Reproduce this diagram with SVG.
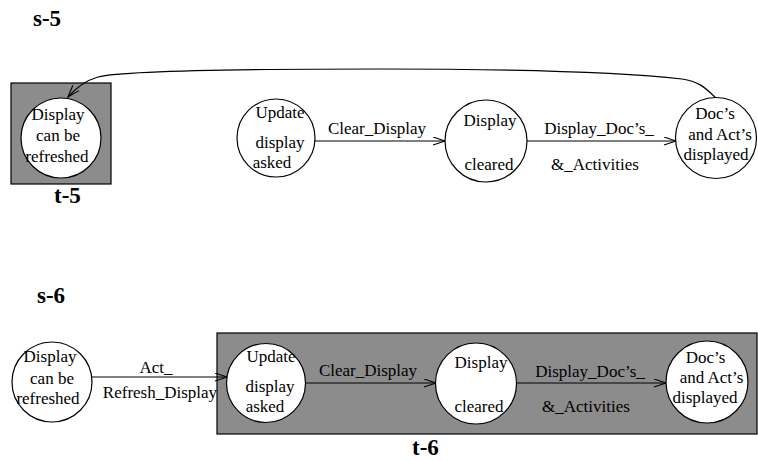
<svg xmlns="http://www.w3.org/2000/svg" width="758" height="461" viewBox="0 0 758 461">
<defs>
<style>
.t{font-family:"Liberation Serif","Times New Roman",serif;font-size:17px;fill:#000;text-anchor:middle}
.b{font-family:"Liberation Serif","Times New Roman",serif;font-size:23px;font-weight:bold;fill:#000}
.c{fill:#fff;stroke:#000;stroke-width:1.2}
.box{fill:#8c8c8c;stroke:#000;stroke-width:1.2}
.e{fill:none;stroke:#000;stroke-width:1.2;marker-end:url(#ah)}
</style>
<marker id="ah" markerWidth="14" markerHeight="10" refX="13" refY="4.5" orient="auto" markerUnits="userSpaceOnUse">
<path d="M1,0.5 L13,4.5 L1,8.5" fill="none" stroke="#000" stroke-width="1.1"/>
</marker>
</defs>
<rect width="758" height="461" fill="#fff"/>
<g id="labels">
<text class="b" x="33" y="26">s-5</text>
<text class="b" x="54" y="203">t-5</text>
<text class="b" x="37" y="303">s-6</text>
<text class="b" x="412" y="455">t-6</text>
</g>
<g id="t5-box"><rect class="box" x="11" y="83" width="100" height="101"/></g>
<g id="t6-box"><rect class="box" x="217" y="333" width="540" height="101"/></g>
<g id="connectors">
<path class="e" d="M715,97 C706,89 701,82 682,79 C620,72 500,69 380,69 C250,69 125,70 98,77 C84,81 75,89 68,97"/>
<line class="e" x1="315" y1="141" x2="445" y2="141"/>
<line class="e" x1="527" y1="141" x2="676" y2="141"/>
<line class="e" x1="88" y1="377" x2="227" y2="377"/>
<line class="e" x1="305" y1="383" x2="436" y2="383"/>
<line class="e" x1="517" y1="383" x2="666" y2="383"/>
</g>
<g id="edge-labels">
<text class="t" x="377" y="134">Clear_Display</text>
<text class="t" x="599" y="134">Display_Doc’s_</text>
<text class="t" x="595" y="170">&amp;_Activities</text>
<text class="t" x="156" y="373">Act_</text>
<text class="t" x="160" y="398">Refresh_Display</text>
<text class="t" x="368" y="376">Clear_Display</text>
<text class="t" x="590" y="377">Display_Doc’s_</text>
<text class="t" x="586" y="412">&amp;_Activities</text>
</g>
<g id="s5-refresh">
<circle class="c" cx="61" cy="138" r="40"/>
<text class="t" x="58" y="120">Display</text>
<text class="t" x="58" y="141">can be</text>
<text class="t" x="57" y="162">refreshed</text>
</g>
<g id="s5-update">
<circle class="c" cx="276" cy="138" r="39"/>
<text class="t" x="280" y="118">Update</text>
<text class="t" x="280" y="148">display</text>
<text class="t" x="272" y="168">asked</text>
</g>
<g id="s5-cleared">
<circle class="c" cx="486" cy="141" r="41"/>
<text class="t" x="490" y="126">Display</text>
<text class="t" x="489" y="170">cleared</text>
</g>
<g id="s5-docs">
<circle class="c" cx="716" cy="138" r="40.5"/>
<text class="t" x="715" y="119">Doc’s</text>
<text class="t" x="720" y="140">and Act’s</text>
<text class="t" x="716" y="160">displayed</text>
</g>
<g id="s6-refresh">
<circle class="c" cx="52" cy="382" r="40"/>
<text class="t" x="50" y="362">Display</text>
<text class="t" x="52" y="384">can be</text>
<text class="t" x="48" y="404">refreshed</text>
</g>
<g id="s6-update">
<circle class="c" cx="266" cy="383" r="39.5"/>
<text class="t" x="271" y="362">Update</text>
<text class="t" x="270" y="392">display</text>
<text class="t" x="265" y="412">asked</text>
</g>
<g id="s6-cleared">
<circle class="c" cx="476" cy="383.5" r="40.5"/>
<text class="t" x="481" y="368">Display</text>
<text class="t" x="479" y="412">cleared</text>
</g>
<g id="s6-docs">
<circle class="c" cx="707" cy="382" r="41"/>
<text class="t" x="705.5" y="363">Doc’s</text>
<text class="t" x="711.5" y="383">and Act’s</text>
<text class="t" x="705" y="403">displayed</text>
</g>
</svg>
